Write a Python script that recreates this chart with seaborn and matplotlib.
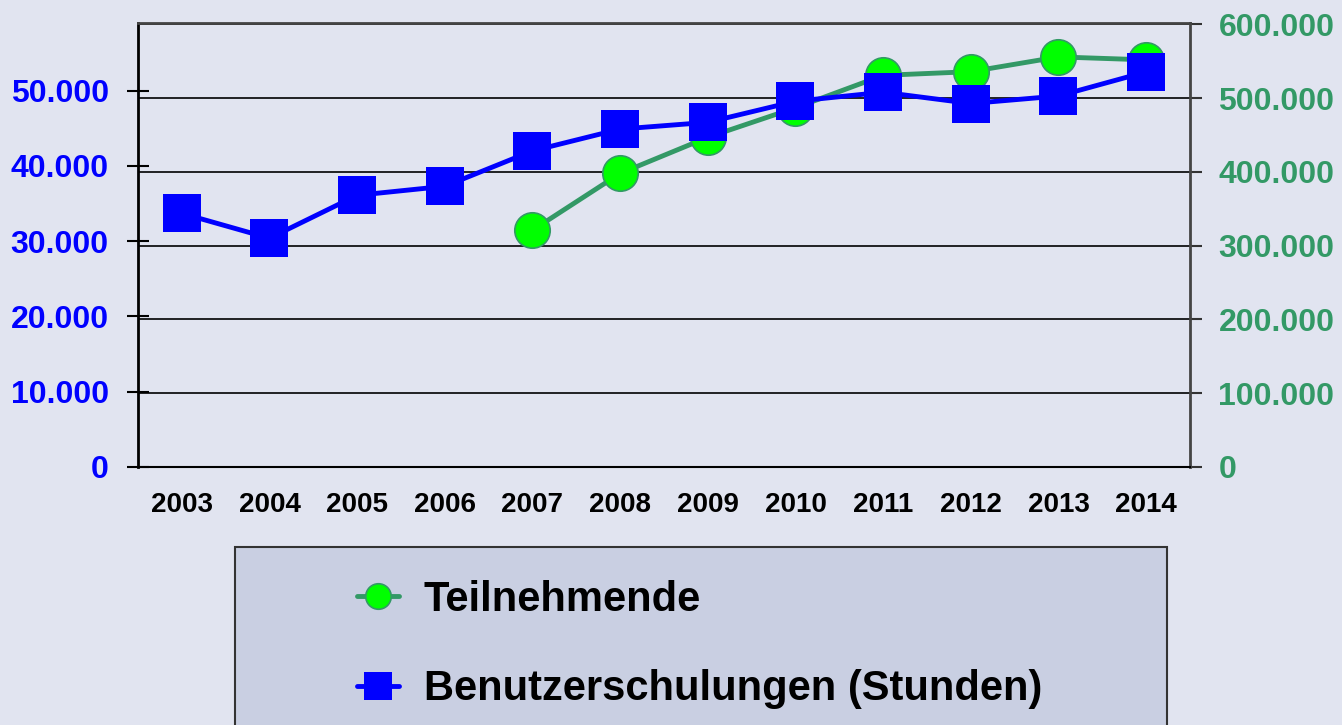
import numpy as np
import pandas as pd
import matplotlib.pyplot as plt
import seaborn as sns
from matplotlib.ticker import FuncFormatter, MultipleLocator
from matplotlib.patches import Rectangle

# Daten
jahre = [2003, 2004, 2005, 2006, 2007, 2008, 2009, 2010, 2011, 2012, 2013, 2014]
stunden = [33700, 30400, 36100, 37300, 42000, 44900, 45800, 48600, 49800, 48300, 49300, 52500]
teiln_jahre = [2007, 2008, 2009, 2010, 2011, 2012, 2013, 2014]
teilnehmende = [321000, 398000, 447000, 487000, 531000, 536000, 556000, 552000]

BG = '#E1E4F0'
LEG_BG = '#C9CFE2'
BLAU = '#0000FF'
GRUEN = '#339966'
HELLGRUEN = '#00FF00'

sns.set_style("white")
plt.rcParams['font.family'] = ['Liberation Sans', 'DejaVu Sans']
plt.rcParams['font.weight'] = 'bold'
plt.rcParams['text.color'] = 'black'

df_std = pd.DataFrame({'Jahr': jahre, 'Stunden': stunden})
df_tn = pd.DataFrame({'Jahr': teiln_jahre, 'Teilnehmende': teilnehmende})

fig = plt.figure(figsize=(13.42, 7.25), dpi=100, facecolor=BG)
ax = fig.add_axes([0.1028, 0.3559, 0.7839, 0.6124])
ax2 = ax.twinx()

# blaue Linie soll oben liegen
ax.set_zorder(2)
ax2.set_zorder(1)
ax.patch.set_visible(False)
ax2.patch.set_visible(False)

sns.lineplot(data=df_tn, x='Jahr', y='Teilnehmende', ax=ax2, color=GRUEN, lw=3.5,
             marker='o', markersize=25.5, markerfacecolor=HELLGRUEN,
             markeredgecolor=GRUEN, markeredgewidth=1.2, legend=False)
linie_tn = ax2.get_lines()[-1]

sns.lineplot(data=df_std, x='Jahr', y='Stunden', ax=ax, color=BLAU, lw=3.5,
             marker='s', markersize=28, markerfacecolor=BLAU,
             markeredgecolor=BLAU, markeredgewidth=0, legend=False)
linie_std = ax.get_lines()[-1]

fmt = FuncFormatter(lambda v, p: f'{int(v):,}'.replace(',', '.'))

# linke Achse
ax.set_ylim(0, 59000)
ax.yaxis.set_major_locator(MultipleLocator(10000))
ax.yaxis.set_major_formatter(fmt)
ax.tick_params(axis='y', direction='inout', length=16, width=1.5, color='black',
               labelcolor=BLAU, labelsize=23, pad=13)

# rechte Achse
ax2.set_ylim(0, 602000)
ax2.yaxis.set_major_locator(MultipleLocator(100000))
ax2.yaxis.set_major_formatter(fmt)
ax2.tick_params(axis='y', direction='out', length=8.5, width=1.5, color='#333333',
                labelcolor=GRUEN, labelsize=23, pad=12)
ax2.yaxis.grid(True, color='black', lw=1.2)
ax.grid(False)

# x-Achse
ax.set_xlim(2002.5, 2014.5)
ax.set_xticks(jahre)
ax.set_xticklabels([str(j) for j in jahre])
ax.set_xticks([j - 0.5 for j in jahre] + [2014.5], minor=True)
ax.tick_params(axis='x', which='major', length=0, labelsize=20, pad=18, labelcolor='black')
ax.tick_params(axis='x', which='minor', direction='out', length=6.5, width=1.5, color='black')
ax.set_xlabel('')
ax.set_ylabel('')
ax2.set_ylabel('')

for lbl in ax.get_xticklabels() + ax.get_yticklabels() + ax2.get_yticklabels():
    lbl.set_fontweight('bold')

for s in ax2.spines.values():
    s.set_visible(False)
ax.spines['left'].set_color('black')
ax.spines['left'].set_linewidth(2)
ax.spines['bottom'].set_color('black')
ax.spines['bottom'].set_linewidth(1.5)
ax.spines['top'].set_color('#444444')
ax.spines['top'].set_linewidth(2)
ax.spines['right'].set_color('#444444')
ax.spines['right'].set_linewidth(2)

# Legendenkasten
x0 = 235 / 1342
breite = (1167 - 235) / 1342
oben = 1 - 547 / 725
fig.add_artist(Rectangle((x0, -0.05), breite, oben + 0.05, transform=fig.transFigure,
                         facecolor=LEG_BG, edgecolor='#333333', lw=1.5))

leg = fig.legend(handles=[linie_tn, linie_std],
                 labels=['Teilnehmende', 'Benutzerschulungen (Stunden)'],
                 loc='upper left', bbox_to_anchor=(357 / 1342, 1 - 580 / 725),
                 frameon=False, borderpad=0, borderaxespad=0, handlelength=1.0,
                 handletextpad=0.6, labelspacing=1.18, markerscale=0.72,
                 prop={'size': 30, 'weight': 'bold'})
for t in leg.get_texts():
    t.set_color('black')

fig.savefig('out.png', dpi=100, facecolor=BG)
